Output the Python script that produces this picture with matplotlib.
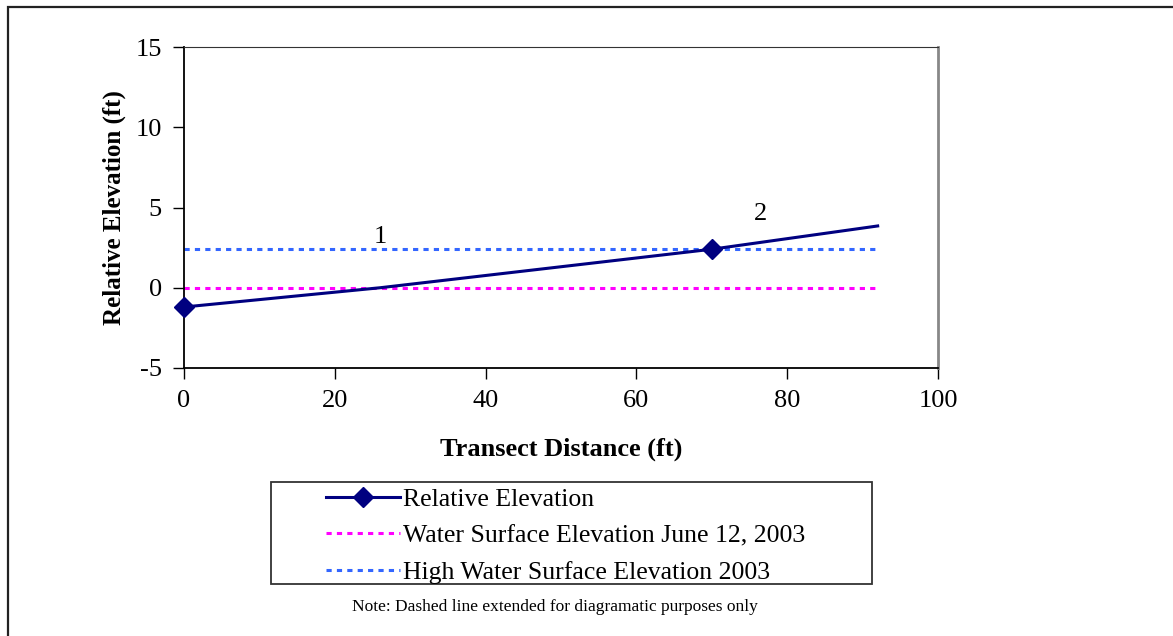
import matplotlib.pyplot as plt
from matplotlib.patches import Rectangle

plt.rcParams['font.family'] = ['Liberation Serif', 'DejaVu Serif']
plt.rcParams['axes.unicode_minus'] = False

# data
dist = [0, 26, 70, 92]
elev = [-1.2, 0.0, 2.4, 3.85]
water_x = [0, 92]
water_y = [0, 0]
high_x = [0, 92]
high_y = [2.4, 2.4]
xticks = [0, 20, 40, 60, 80, 100]
yticks = [-5, 0, 5, 10, 15]

fig = plt.figure(figsize=(11.73, 6.36), dpi=100)
W, H = 1173, 636

# outer frame (cropped on right/bottom)
fig.patches.append(Rectangle((8 / W, -0.1), 1.2, 1 - 7 / H + 0.1,
                             transform=fig.transFigure, fill=False,
                             ec='#222222', lw=1.6))

ax = fig.add_axes([184 / W, 1 - 368 / H, (938 - 184) / W, (368 - 47) / H])

ax.plot(water_x, water_y, color='#ff00ff', lw=2.2, dashes=(1.7, 1.7),
        label='Water Surface Elevation June 12, 2003', zorder=2)
ax.plot(high_x, high_y, color='#3366ff', lw=2.2, dashes=(1.7, 1.7),
        label='High Water Surface Elevation 2003', zorder=2)
ax.plot(dist, elev, color='#000080', lw=2.2, marker='D', markersize=10,
        markevery=[0, 2], label='Relative Elevation', zorder=3, clip_on=False)

ax.text(26, 2.45, '1', fontsize=19, ha='center', va='bottom')
ax.text(76.4, 3.9, '2', fontsize=19, ha='center', va='bottom')

ax.set_xlim(0, 100)
ax.set_ylim(-5, 15)
ax.set_xticks(xticks)
ax.set_yticks(yticks)
ax.tick_params(labelsize=19, direction='out', length=8, width=1, pad=8)
for s in ['left', 'bottom']:
    ax.spines[s].set_linewidth(1.3)
    ax.spines[s].set_color('black')
ax.spines['top'].set_color('#333333')
ax.spines['right'].set_color('#888888')
ax.spines['right'].set_linewidth(2)

ax.set_xlabel('Transect Distance (ft)', fontsize=19, fontweight='bold', labelpad=18)
ax.set_ylabel('Relative Elevation (ft)', fontsize=18, fontweight='bold', labelpad=7)

# legend box
fig.patches.append(Rectangle((271 / W, 1 - 584 / H), (872 - 271) / W, (584 - 482) / H,
                             transform=fig.transFigure, fill=False,
                             ec='#333333', lw=1.3))
h, l = ax.get_legend_handles_labels()
order = [2, 0, 1]
fig.legend([h[i] for i in order], [l[i] for i in order],
           loc='upper left', bbox_to_anchor=(305 / W, 1 - 467 / H),
           frameon=False, fontsize=18.5, handlelength=2.9, handletextpad=0.1,
           labelspacing=0.53, borderpad=0.3)

fig.text(555 / W, 1 - 607 / H,
         'Note: Dashed line extended for diagramatic purposes only',
         fontsize=12.5, ha='center', va='center')

fig.savefig('out.png', dpi=100)
